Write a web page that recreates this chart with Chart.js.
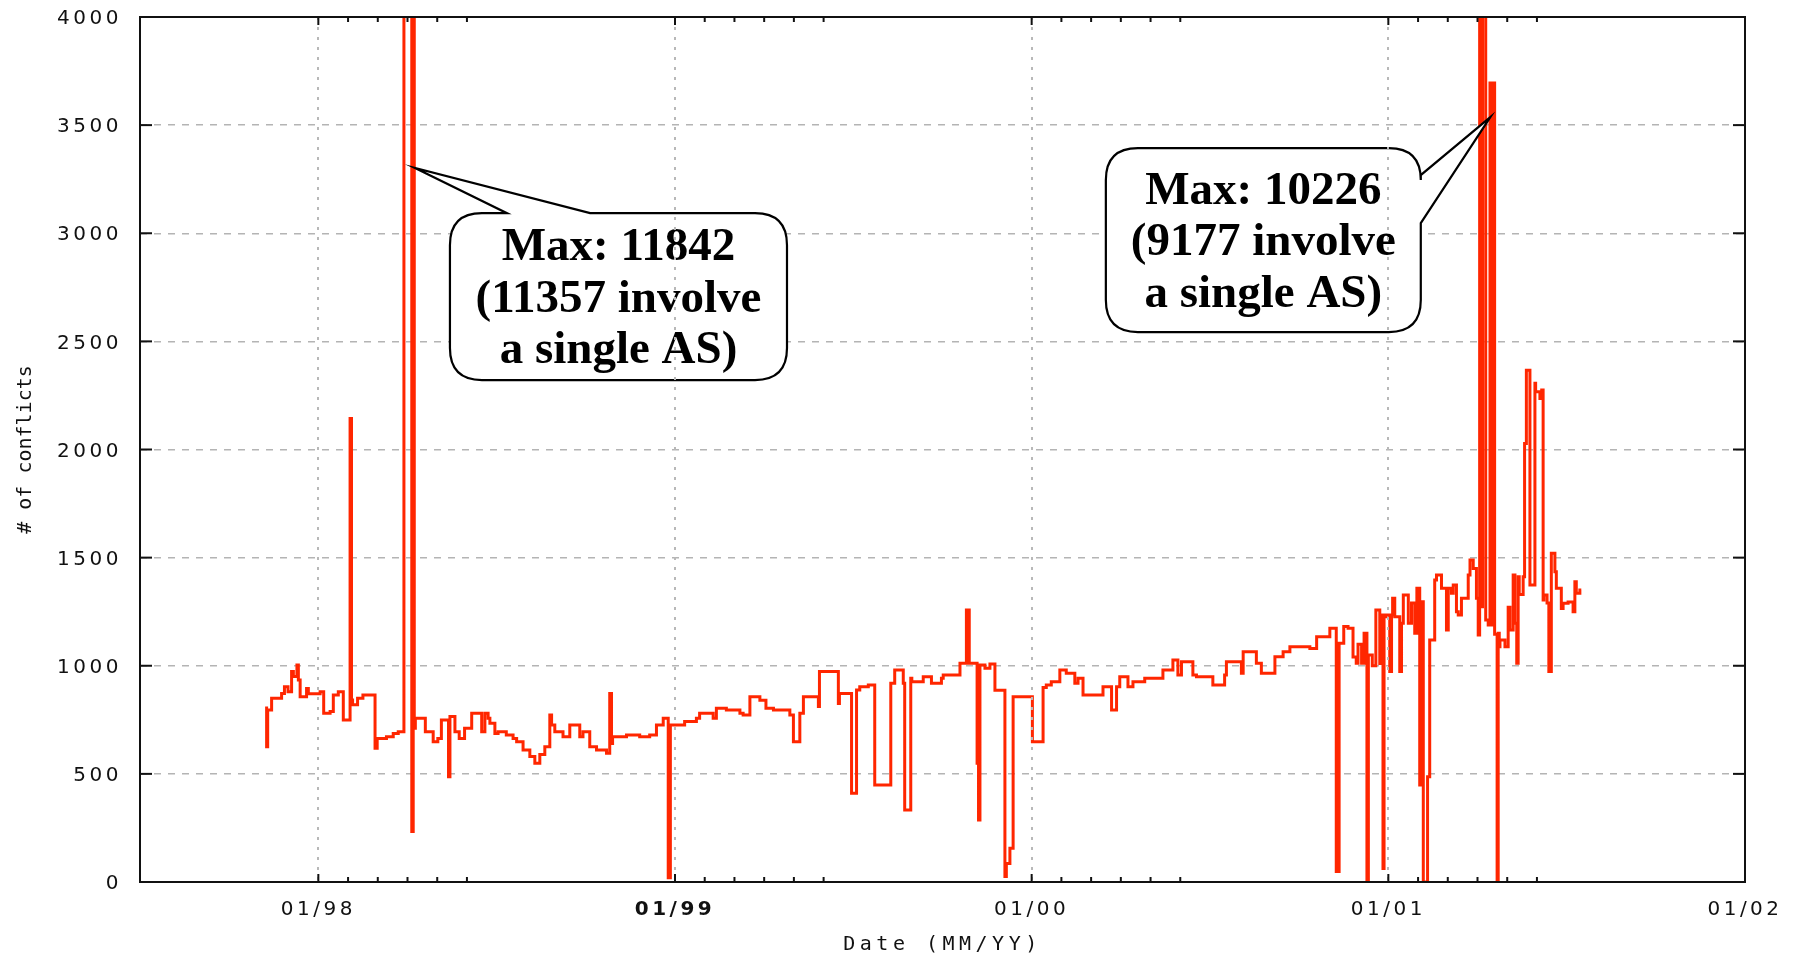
<!DOCTYPE html>
<html>
<head>
<meta charset="utf-8">
<script src="https://cdn.jsdelivr.net/npm/chart.js@4.4.1/dist/chart.umd.min.js"></script>
<style>
html,body{margin:0;padding:0;background:#fff;}
#wrap{width:1798px;height:960px;position:relative;}
</style>
</head>
<body>
<div id="wrap"><canvas id="c"></canvas></div>
<script>
// ---- data (x = decimal year, y = # of conflicts) ----
const dates = [
1997.855,1997.858,1997.869,1997.897,1997.905,1997.915,1997.925,1997.930,1997.940,1997.944,
1997.949,1997.967,1997.972,1998.005,1998.015,1998.033,1998.042,1998.056,1998.070,1998.089,
1998.093,1998.096,1998.110,1998.125,1998.159,1998.165,1998.191,1998.210,1998.224,1998.240,
1998.257,1998.262,1998.266,1998.269,1998.272,1998.300,1998.322,1998.335,1998.345,1998.365,
1998.369,1998.383,1998.395,1998.410,1998.430,1998.458,1998.467,1998.476,1998.481,1998.495,
1998.504,1998.527,1998.546,1998.556,1998.574,1998.593,1998.607,1998.621,1998.635,1998.649,
1998.654,1998.663,1998.686,1998.705,1998.733,1998.742,1998.761,1998.780,1998.808,1998.817,
1998.822,1998.825,1998.864,1998.901,1998.929,1998.948,1998.967,1998.981,1998.987,1999.027,
1999.060,1999.069,1999.107,1999.116,1999.144,1999.182,1999.191,1999.210,1999.238,1999.255,
1999.276,1999.322,1999.332,1999.350,1999.360,1999.402,1999.405,1999.458,1999.461,1999.495,
1999.509,1999.518,1999.542,1999.560,1999.605,1999.616,1999.640,1999.644,1999.661,1999.664,
1999.696,1999.719,1999.747,1999.752,1999.799,1999.817,1999.825,1999.847,1999.851,1999.855,
1999.869,1999.883,1999.897,1999.925,1999.929,1999.939,1999.948,2000.002,2000.032,2000.041,
2000.055,2000.079,2000.097,2000.121,2000.130,2000.144,2000.200,2000.224,2000.238,2000.247,
2000.270,2000.284,2000.317,2000.368,2000.396,2000.410,2000.420,2000.452,2000.462,2000.508,
2000.541,2000.546,2000.588,2000.593,2000.630,2000.644,2000.682,2000.705,2000.724,2000.780,
2000.799,2000.836,2000.854,2000.862,2000.875,2000.887,2000.901,2000.910,2000.915,2000.925,
2000.932,2000.940,2000.944,2000.955,2000.965,2000.976,2000.980,2000.985,2000.988,2000.993,
2001.004,2001.009,2001.012,2001.018,2001.032,2001.037,2001.042,2001.056,2001.065,2001.074,
2001.080,2001.088,2001.093,2001.098,2001.110,2001.116,2001.130,2001.135,2001.149,2001.163,
2001.168,2001.177,2001.182,2001.191,2001.196,2001.205,2001.224,2001.229,2001.238,2001.247,
2001.252,2001.256,2001.258,2001.264,2001.273,2001.280,2001.285,2001.289,2001.295,2001.298,
2001.305,2001.308,2001.311,2001.313,2001.327,2001.336,2001.341,2001.350,2001.355,2001.360,
2001.364,2001.367,2001.378,2001.382,2001.387,2001.397,2001.411,2001.413,2001.425,2001.430,
2001.434,2001.436,2001.445,2001.450,2001.457,2001.467,2001.471,2001.485,2001.490,2001.504,
2001.518,2001.523,2001.527,2001.537,2001.541
];
const conflicts = [
811,626,795,850,872,903,880,973,950,1003,
934,857,895,870,880,780,788,865,880,749,
2143,842,820,850,865,618,664,672,687,695,
11842,9000,233,6000,711,757,695,649,664,749,
487,765,695,664,711,780,695,780,757,734,
687,695,680,664,649,610,580,549,590,626,
772,726,695,672,726,672,695,626,610,595,
872,641,672,680,672,680,726,757,20,726,
742,757,780,757,803,795,780,772,857,840,
803,795,772,649,780,857,811,973,826,872,
410,888,903,911,449,919,980,919,333,942,
926,949,919,942,957,1011,1258,1011,549,287,
1003,988,1008,887,25,86,156,857,649,900,
911,926,980,965,919,942,865,903,795,903,
949,903,926,942,980,1027,957,1019,957,949,
911,957,1019,965,1065,1011,965,1042,1065,1088,
1080,1134,1173,48,1104,1181,1173,1040,1011,1100,
1011,1150,2,1050,1000,1258,1010,1235,63,1227,
1235,973,1235,1312,1227,973,1196,1327,1196,1290,
1150,1358,449,1296,0,487,1119,1396,1420,1358,
1165,1358,1335,1373,1250,1235,1312,1420,1489,1450,
1312,1142,10226,1273,5500,1211,1188,3695,1188,3695,
1146,0,1150,1088,1119,1088,1270,1165,1420,1196,
1011,1412,1330,1412,2028,2367,1373,2306,2267,2236,
2275,1304,1327,1290,973,1520,1435,1358,1265,1289,
1295,1250,1389,1335,1350
];
const yTickValues = [0,500,1000,1500,2000,2500,3000,3500,4000];
const yearTicks = [1998,1999,2000,2001,2002];
const yearLabels = ['01/98','01/99','01/00','01/01','01/02'];
const minorTickYears = [1998,1999,2000,2001];
const minorTickMonths = [1,2,3,4,5];
const calloutTexts = [
  ['Max: 11842','(11357 involve','a single AS)'],
  ['Max: 10226','(9177 involve','a single AS)']
];
// callout placement in data units (box: [x1,x2,yTop,yBottom], tail: base1, tip, base2)
const calloutLayout = [
  {box:[1998.369,1999.314,3093,2321], side:'top',   tail:[[1998.529,3093],[1998.271,3302],[1998.762,3093]]},
  {box:[2000.208,2001.091,3394,2543], side:'right', tail:[[2001.091,3269],[2001.286,3537],[2001.091,3047]]}
];

const points = dates.map((d,i)=>({x:d,y:conflicts[i]}));
const MONO = 'DejaVu Sans Mono';
const SANS = 'DejaVu Sans';

const spacingPlugin = {
  id:'spacing',
  beforeDraw(chart){
    ['x','y'].forEach(id=>{
      const s = chart.scales[id];
      if (!s || s._wrapped) return;
      const ol = s.drawLabels;
      s.drawLabels = function(a){
        const c=this.ctx; c.save(); c.letterSpacing='3.5px';
        if (id==='y') c.translate(0,2);
        ol.call(this,a); c.restore();
      };
      if (id==='x'){
        const ot = s.drawTitle;
        s.drawTitle = function(){ const c=this.ctx; c.save(); c.letterSpacing='4.5px'; ot.call(this); c.restore(); };
      }
      s._wrapped = true;
    });
  }
};

function bubble(ctx, L, T, R, B, r, side, tail){
  ctx.beginPath();
  ctx.moveTo(L + r, T);
  if (side==='top') tail.forEach(p=>ctx.lineTo(p[0],p[1]));
  ctx.lineTo(R - r, T);
  ctx.quadraticCurveTo(R, T, R, T + r);
  if (side==='right') tail.forEach(p=>ctx.lineTo(p[0],p[1]));
  ctx.lineTo(R, B - r);
  ctx.quadraticCurveTo(R, B, R - r, B);
  ctx.lineTo(L + r, B);
  ctx.quadraticCurveTo(L, B, L, B - r);
  ctx.lineTo(L, T + r);
  ctx.quadraticCurveTo(L, T, L + r, T);
  ctx.closePath();
}

const calloutPlugin = {
  id:'callouts',
  afterDatasetsDraw(chart){
    const ctx = chart.ctx, xs = chart.scales.x, ys = chart.scales.y;
    calloutLayout.forEach((c,k)=>{
      const L = xs.getPixelForValue(c.box[0]), R = xs.getPixelForValue(c.box[1]);
      const T = ys.getPixelForValue(c.box[2]), B = ys.getPixelForValue(c.box[3]);
      const tail = c.tail.map(p=>[xs.getPixelForValue(p[0]), ys.getPixelForValue(p[1])]);
      ctx.save();
      bubble(ctx, L, T, R, B, 32, c.side, tail);
      ctx.fillStyle = '#ffffff';
      ctx.fill();
      ctx.lineWidth = 2.2;
      ctx.strokeStyle = '#000';
      ctx.stroke();
      ctx.fillStyle = '#000';
      ctx.font = 'bold 47px "Liberation Serif"';
      ctx.textAlign = 'center';
      ctx.textBaseline = 'alphabetic';
      const cx = (L+R)/2, cy = (T+B)/2;
      calloutTexts[k].forEach((t,i)=>ctx.fillText(t, cx, cy + 15 + (i-1)*51.5));
      ctx.restore();
    });
  }
};

const framePlugin = {
  id:'frame',
  afterDraw(chart){
    const ctx = chart.ctx, xs = chart.scales.x, ys = chart.scales.y;
    const {left,right,top,bottom} = chart.chartArea;
    ctx.save();
    ctx.strokeStyle = '#111';
    ctx.lineWidth = 2;
    ctx.strokeRect(left, top, right-left, bottom-top);
    const ln=(a,b,c,d)=>{ctx.beginPath();ctx.moveTo(a,b);ctx.lineTo(c,d);ctx.stroke();};
    yTickValues.forEach(v=>{
      if (v===0 || v===4000) return;
      const y = ys.getPixelForValue(v);
      ln(left,y,left+12,y); ln(right,y,right-12,y);
    });
    yearTicks.forEach(v=>{
      if (v===2002) return;
      const x = xs.getPixelForValue(v);
      ln(x,bottom,x,bottom-8); ln(x,top,x,top+8);
    });
    minorTickYears.forEach(yr=>minorTickMonths.forEach(m=>{
      const x = xs.getPixelForValue(yr + m/12);
      ln(x,bottom,x,bottom-5); ln(x,top,x,top+5);
    }));
    ctx.restore();
  }
};

new Chart(document.getElementById('c'), {
  type:'line',
  data:{ datasets:[{
    data: points,
    borderColor:'#ff2600',
    borderWidth:3,
    pointRadius:0,
    stepped:'after',
    fill:false,
    tension:0
  }]},
  options:{
    responsive:true,
    maintainAspectRatio:false,
    animation:false,
    events:[],
    layout:{padding:{top:17,right:53,left:0,bottom:0}},
    plugins:{legend:{display:false},tooltip:{enabled:false}},
    scales:{
      x:{
        type:'linear', min:1997.5, max:2002,
        afterBuildTicks:(s)=>{ s.ticks = yearTicks.map(v=>({value:v})); },
        afterFit:(s)=>{ s.height = 78; s.paddingLeft = 0; s.paddingRight = 0; },
        ticks:{
          autoSkip:false, maxRotation:0, padding:16, color:'#111',
          callback:(v,i)=>yearLabels[yearTicks.indexOf(v)] || '',
          font:(c)=>({family:SANS, size:20, weight:(c.tick && c.tick.value===1999)?'bold':'normal'})
        },
        grid:{
          z:1, drawTicks:false, lineWidth:2,
          color:(c)=> (c.tick && c.tick.value===2002) ? 'rgba(0,0,0,0)' : '#b8b8b8'
        },
        border:{display:false, dash:[3,7]},
        title:{display:true, text:'Date (MM/YY)', color:'#111', font:{family:MONO,size:20}, padding:{top:0,bottom:3}}
      },
      y:{
        min:0, max:4000,
        afterBuildTicks:(s)=>{ s.ticks = yTickValues.map(v=>({value:v})); },
        afterFit:(s)=>{ s.width = 140; s.paddingTop = 0; s.paddingBottom = 0; },
        ticks:{ padding:18, color:'#111', font:{family:SANS,size:20}, callback:(v)=>String(v) },
        grid:{
          drawTicks:false, lineWidth:1.5,
          color:(c)=> (c.tick && (c.tick.value===0 || c.tick.value===4000)) ? 'rgba(0,0,0,0)' : '#b4b4b4'
        },
        border:{display:false, dash:[7,7]},
        title:{display:true, text:'# of conflicts', color:'#111', font:{family:MONO,size:20}, padding:{top:14,bottom:0}}
      }
    }
  },
  plugins:[spacingPlugin, calloutPlugin, framePlugin]
});
</script>
</body>
</html>
